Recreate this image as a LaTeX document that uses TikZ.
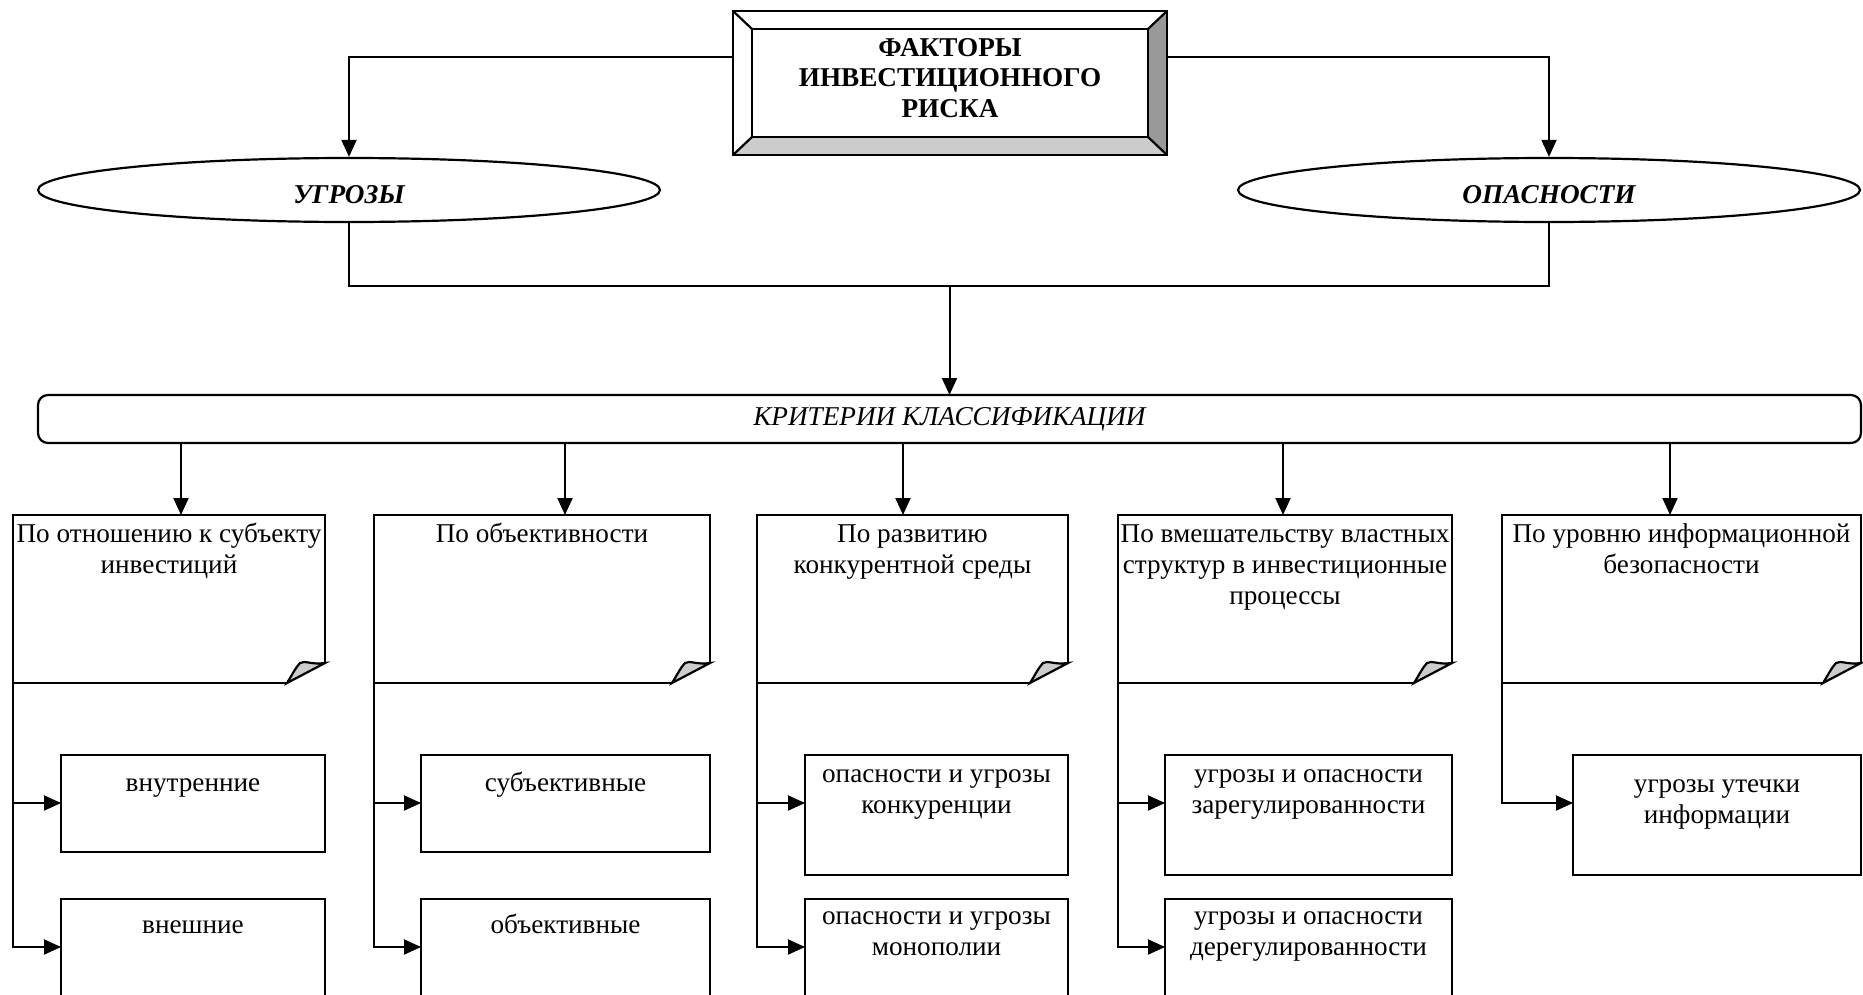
\documentclass[tikz,border=0pt]{standalone}
\usepackage{fontspec}
\setmainfont{Liberation Serif}
\usetikzlibrary{arrows.meta,shapes.geometric,fit,calc}

\newcommand\boxfont{\fontsize{13.6}{15.3}\selectfont}

\begin{document}
\begin{tikzpicture}[x=0.5pt,y=-0.5pt,
  lw/.style={line width=1.1pt},
  conn/.style={line width=1pt},
  arr/.style={conn,-{Triangle[length=8.5pt,width=7.5pt]}},
  area/.style={inner sep=0pt, outer sep=0pt},
  subbox/.style={area, draw, line width=1.1pt},
  oval/.style={ellipse, draw, lw, minimum width=311pt, minimum height=32pt, inner sep=0pt},
  ovaltext/.style={font=\boxfont\bfseries\itshape, inner sep=0pt},
  txt/.style={font=\boxfont, align=center, inner sep=0pt, anchor=north},
  curl/.style={lw, fill=black!20}
]
\useasboundingbox (0,0) rectangle (1863,995);
\clip (0,0) rectangle (1863,995);

% levels used by the connectors
\coordinate (lt) at (0,57);
\coordinate (jn) at (0,286);
\coordinate (r1) at (0,803);
\coordinate (r2) at (0,947);
\coordinate (ax1) at (181,0);
\coordinate (ax2) at (565,0);
\coordinate (ax3) at (903,0);
\coordinate (ax4) at (1283,0);
\coordinate (ax5) at (1670,0);

% bevelled title frame
\node[area, fit={(733,11) (1167,155)}] (top) {};
\node[area, fit={(752,29) (1148,137)}] (topin) {};
\fill[black!40] (top.north east) -- (top.south east) -- (topin.south east) -- (topin.north east) -- cycle;
\fill[black!20] (top.south west) -- (top.south east) -- (topin.south east) -- (topin.south west) -- cycle;
\draw[lw] (top.north west) rectangle (top.south east);
\draw[lw] (topin.north west) rectangle (topin.south east);
\draw[lw] (top.north west) -- (topin.north west);
\draw[lw] (top.north east) -- (topin.north east);
\draw[lw] (top.south west) -- (topin.south west);
\draw[lw] (top.south east) -- (topin.south east);
\node[font=\boxfont\bfseries, align=center, inner sep=0pt] (title) at ([yshift=2.5pt]topin.center)
  {ФАКТОРЫ\\ИНВЕСТИЦИОННОГО\\РИСКА};

% the two groups
\node[oval] (ugr) at (349,190) {};
\node[oval] (opa) at (1549,190) {};
\node[ovaltext] (ugrt) at ([yshift=-2.5pt]ugr.center) {УГРОЗЫ};
\node[ovaltext] (opat) at ([yshift=-2.5pt]opa.center) {ОПАСНОСТИ};

% criteria bar
\node[area, draw, lw, rounded corners=5pt, fit={(38,395) (1861,443)}] (crit) {};
\node[font=\boxfont\itshape, inner sep=0pt] (critt) at (crit.center) {КРИТЕРИИ КЛАССИФИКАЦИИ};

% criterion boxes with a curled corner
\node[area, fit={(13,515) (325,683)}] (f1) {};
\node[area, fit={(374,515) (710,683)}] (f2) {};
\node[area, fit={(757,515) (1068,683)}] (f3) {};
\node[area, fit={(1118,515) (1452,683)}] (f4) {};
\node[area, fit={(1502,515) (1861,683)}] (f5) {};
\foreach \n in {f1,f2,f3,f4,f5}{
  \draw[lw] ($(\n.south east)+(-38,0)$) -- (\n.south west) -- (\n.north west)
    -- (\n.north east) -- ($(\n.south east)+(0,-20)$);
  \filldraw[curl] ($(\n.south east)+(-38,0)$)
    .. controls ($(\n.south east)+(-33,-8)$) and ($(\n.south east)+(-29,-16)$) .. ($(\n.south east)+(-25,-20)$)
    .. controls ($(\n.south east)+(-20,-23)$) and ($(\n.south east)+(-14,-18)$) .. ($(\n.south east)+(0,-20)$)
    -- cycle;
}
\node[txt] (f1t) at ([yshift=-3pt]f1.north) {\strut По отношению к субъекту\\инвестиций};
\node[txt] (f2t) at ([yshift=-3pt]f2.north) {\strut По объективности};
\node[txt] (f3t) at ([yshift=-3pt]f3.north) {\strut По развитию\\конкурентной среды};
\node[txt] (f4t) at ([yshift=-3pt]f4.north) {\strut По вмешательству властных\\структур в инвестиционные\\процессы};
\node[txt] (f5t) at ([yshift=-3pt]f5.north) {\strut По уровню информационной\\безопасности};

% classes
\node[subbox, fit={(61,755) (325,852)}] (s11) {};
\node[subbox, fit={(61,899) (325,1010)}] (s12) {};
\node[subbox, fit={(421,755) (710,852)}] (s21) {};
\node[subbox, fit={(421,899) (710,1010)}] (s22) {};
\node[subbox, fit={(805,755) (1068,875)}] (s31) {};
\node[subbox, fit={(805,899) (1068,1010)}] (s32) {};
\node[subbox, fit={(1165,755) (1452,875)}] (s41) {};
\node[subbox, fit={(1165,899) (1452,1010)}] (s42) {};
\node[subbox, fit={(1573,755) (1861,875)}] (s51) {};

\node[txt] (s11t) at ([yshift=-7.5pt]s11.north) {\strut внутренние};
\node[txt] (s12t) at ([yshift=-6.5pt]s12.north) {\strut внешние};
\node[txt] (s21t) at ([yshift=-7.5pt]s21.north) {\strut субъективные};
\node[txt] (s22t) at ([yshift=-6.5pt]s22.north) {\strut объективные};
\node[txt] (s31t) at ([yshift=-3pt]s31.north) {\strut опасности и угрозы\\конкуренции};
\node[txt] (s32t) at ([yshift=-2pt]s32.north) {\strut опасности и угрозы\\монополии};
\node[txt] (s41t) at ([yshift=-3pt]s41.north) {\strut угрозы и опасности\\зарегулированности};
\node[txt] (s42t) at ([yshift=-2pt]s42.north) {\strut угрозы и опасности\\дерегулированности};
\node[txt] (s51t) at ([yshift=-8pt]s51.north) {\strut угрозы утечки\\информации};

% connectors
\draw[arr] (top.west |- lt) -| (ugr.north);
\draw[arr] (top.east |- lt) -| (opa.north);
\draw[conn] (ugr.south) |- (crit.north |- jn) -| (opa.south);
\draw[arr] (crit.north |- jn) -- (crit.north);
\foreach \i in {1,...,5}
  \draw[arr] (crit.south -| ax\i) -- (f\i.north -| ax\i);
\foreach \c in {1,2,3,4}{
  \draw[arr] (f\c.south west) |- (s\c1.west |- r1);
  \draw[arr] (f\c.south west) |- (s\c2.west |- r2);
}
\draw[arr] (f5.south west) |- (s51.west |- r1);
\end{tikzpicture}
\end{document}
